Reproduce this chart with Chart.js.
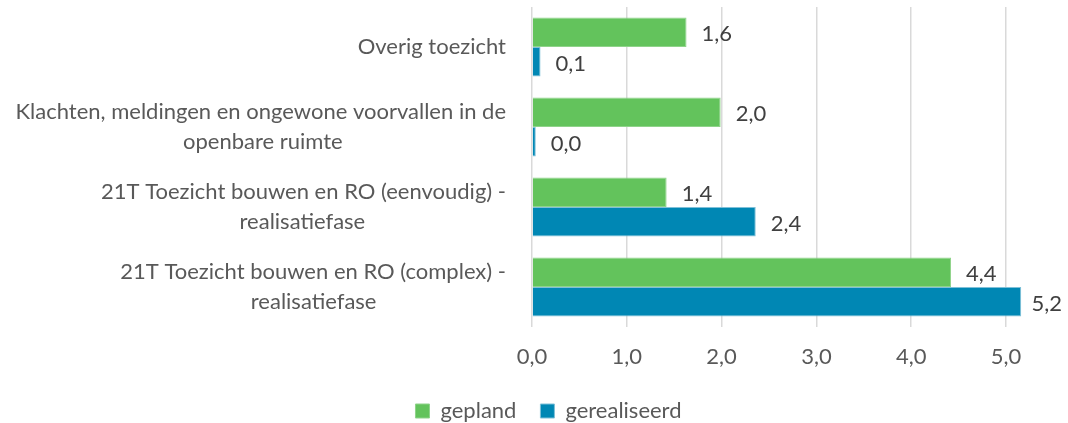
<!DOCTYPE html>
<html>
<head>
<meta charset="utf-8">
<script src="https://cdn.jsdelivr.net/npm/chart.js@4/dist/chart.umd.min.js"></script>
<style>
  html, body { margin: 0; padding: 0; background: #fff; }
  #wrap { width: 1068px; height: 423px; position: relative; }
</style>
</head>
<body>
<div id="wrap"><canvas id="chart"></canvas></div>
<script>
// data
const categories = [
    ["Overig toezicht"],
    ["Klachten, meldingen en ongewone voorvallen in de", "openbare ruimte"],
    ["21T Toezicht bouwen en RO (eenvoudig) -", "realisatiefase"],
    ["21T Toezicht bouwen en RO (complex) -", "realisatiefase"]
];
const gepland = [1.63, 1.99, 1.42, 4.42];
const gerealiseerd = [0.09, 0.04, 2.36, 5.16];
const xTicks = [0, 1, 2, 3, 4, 5];

const FONT = "Lato";
const SIZE = 22;
const fmt = v => v.toFixed(1).replace(".", ",");

// centre the short lines under the long one (right aligned labels, centred lines)
const mctx = document.createElement("canvas").getContext("2d");
mctx.font = SIZE + "px " + FONT;
function centerLines(lines) {
    const widest = Math.max(...lines.map(l => mctx.measureText(l).width));
    const sp = mctx.measureText(" ").width;
    return lines.map(l => {
        const n = Math.round((widest - mctx.measureText(l).width) / 2 / sp);
        return l + " ".repeat(n);
    });
}

// simple value labels at the end of each bar
const valueLabels = {
    id: "valueLabels",
    afterDatasetsDraw(chart) {
        const ctx = chart.ctx;
        ctx.save();
        ctx.font = SIZE + "px " + FONT;
        ctx.fillStyle = "#404040";
        ctx.textBaseline = "middle";
        ctx.textAlign = "left";
        chart.data.datasets.forEach((ds, i) => {
            chart.getDatasetMeta(i).data.forEach((bar, j) => {
                const txt = fmt(ds.data[j]);
                let x = bar.x + 15;
                const w = ctx.measureText(txt).width;
                if (x + w > chart.width - 6) x = chart.width - 6 - w;
                ctx.fillText(txt, x, bar.y + 2);
            });
        });
        ctx.restore();
    }
};

// legend sits a bit right of centre in the original
const legendShift = {
    id: "legendShift",
    afterLayout(chart) {
        chart.legend.left += 36;
        chart.legend.right += 36;
    }
};

document.addEventListener("DOMContentLoaded", () => {
    Chart.defaults.font.family = FONT;
    Chart.defaults.font.size = SIZE;
    Chart.defaults.color = "#595959";

    new Chart(document.getElementById("chart").getContext("2d"), {
        type: "bar",
        data: {
            labels: categories.map(centerLines),
            datasets: [{
                label: "gepland",
                data: gepland,
                backgroundColor: "#63c35c",
                borderColor: "#8fd38a",
                borderWidth: 1
            }, {
                label: "gerealiseerd",
                data: gerealiseerd,
                backgroundColor: "#0087b4",
                borderColor: "#7fc0d8",
                borderWidth: 1
            }]
        },
        options: {
            indexAxis: "y",
            responsive: true,
            maintainAspectRatio: false,
            animation: false,
            barPercentage: 1,
            categoryPercentage: 0.74,
            layout: { padding: { top: 7, right: 43, left: 0, bottom: 0 } },
            scales: {
                x: {
                    min: 0,
                    max: 5.2,
                    afterBuildTicks: scale => {
                        scale.ticks = xTicks.map(v => ({ value: v }));
                    },
                    afterFit: scale => { scale.height = 49; },
                    ticks: { callback: v => fmt(v), padding: 17, color: "#595959" },
                    grid: { color: "#d9d9d9", lineWidth: 1.5, drawTicks: false },
                    border: { display: false }
                },
                y: {
                    afterFit: scale => {
                        scale.width = 532;
                        scale.paddingTop = 0;
                        scale.paddingBottom = 0;
                    },
                    ticks: { padding: 18, color: "#595959", autoSkip: false, font: { lineHeight: 1.35 } },
                    grid: { display: false },
                    border: { display: false }
                }
            },
            plugins: {
                legend: {
                    position: "bottom",
                    maxHeight: 47,
                    labels: { boxWidth: 14, boxHeight: 14, padding: 24, color: "#595959" }
                },
                tooltip: { enabled: false }
            }
        },
        plugins: [valueLabels, legendShift]
    });
});
</script>
</body>
</html>
